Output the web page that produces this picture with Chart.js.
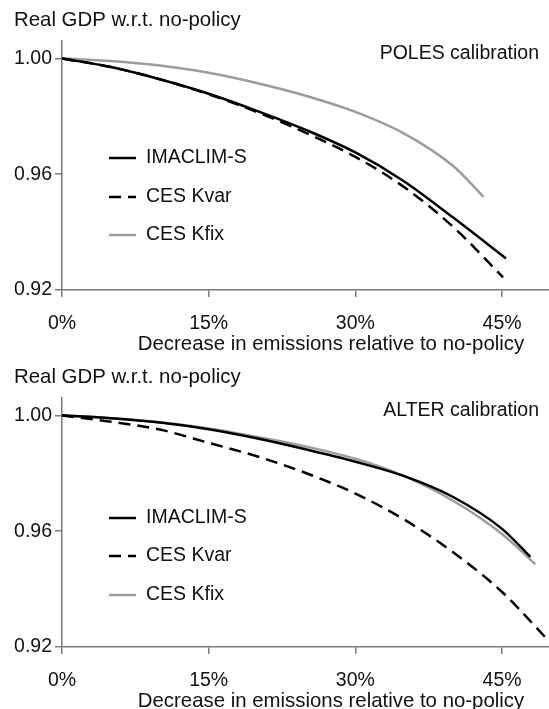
<!DOCTYPE html>
<html>
<head>
<meta charset="utf-8">
<script src="https://cdn.jsdelivr.net/npm/chart.js@4.4.1/dist/chart.umd.min.js"></script>
<style>
  html, body { margin: 0; padding: 0; background: #fff; width: 549px; height: 709px; overflow: hidden; }
  .panel { position: absolute; left: 0; width: 549px; height: 364px; }
  #top { top: 0; }
  #bot { top: 357px; }
</style>
</head>
<body>
<div class="panel" id="top"><canvas id="cTop"></canvas></div>
<div class="panel" id="bot"><canvas id="cBot"></canvas></div>
<script>
/* GDP vs emission cuts, two calibrations (POLES / ALTER), three model variants */
var xTicks = [0, 15, 30, 45];
var yTicks = [0.92, 0.96, 1.00];
var seriesNames = ['IMACLIM-S', 'CES Kvar', 'CES Kfix'];

// POLES calibration
var polesImaclimX = [0, 5, 10, 15, 20, 25, 30, 35, 40, 45.4];
var polesImaclimY = [1.000, 0.9970, 0.9928, 0.9878, 0.9818, 0.9752, 0.9675, 0.9575, 0.9450, 0.9309];
var polesKvarX = [0, 5, 10, 15, 20, 25, 30, 35, 40, 45.1];
var polesKvarY = [1.000, 0.9970, 0.9928, 0.9876, 0.9814, 0.9742, 0.9660, 0.9555, 0.9418, 0.9244];
var polesKfixX = [0, 5, 10, 15, 20, 25, 30, 35, 40, 43.1];
var polesKfixY = [1.000, 0.9991, 0.9975, 0.9950, 0.9914, 0.9870, 0.9815, 0.9740, 0.9628, 0.9522];

// ALTER calibration
var alterImaclimX = [0, 5, 10, 15, 20, 25, 30, 35, 40, 45, 47.9];
var alterImaclimY = [1.000, 0.9990, 0.9975, 0.9952, 0.9920, 0.9882, 0.9840, 0.9790, 0.9718, 0.9608, 0.9511];
var alterKvarX = [0, 5, 10, 15, 20, 25, 30, 35, 40, 45, 49.8];
var alterKvarY = [1.000, 0.9978, 0.9951, 0.9905, 0.9858, 0.9800, 0.9730, 0.9640, 0.9527, 0.9390, 0.9220];
var alterKfixX = [0, 5, 10, 15, 20, 25, 30, 35, 40, 45, 48.4];
var alterKfixY = [1.000, 0.9990, 0.9976, 0.9955, 0.9925, 0.9892, 0.9850, 0.9790, 0.9705, 0.9590, 0.9486];

var FAMILY = '"Liberation Sans", Arial, sans-serif';
var FSIZE = 19.5;     // ticks, legend, calibration
var TSIZE = 20.4;     // axis titles run a bit wider
var INK = '#111';
var AXIS = '#7a7a7a';
var GREY = '#9c9c9c';
var PANEL_H = 364;    // panels overlap a little so the x title is not clipped

Chart.defaults.font.family = FAMILY;
Chart.defaults.font.size = FSIZE;
Chart.defaults.color = INK;

function pts(xs, ys) { return xs.map(function (x, i) { return { x: x, y: ys[i] }; }); }

function sets(imX, imY, kvX, kvY, kfX, kfY) {
  var base = { pointRadius: 0, borderWidth: 2.5, cubicInterpolationMode: 'monotone', fill: false };
  return [
    Object.assign({ label: seriesNames[0], data: pts(imX, imY), borderColor: '#000' }, base),
    Object.assign({ label: seriesNames[1], data: pts(kvX, kvY), borderColor: '#000', borderDash: [12, 7] }, base),
    Object.assign({ label: seriesNames[2], data: pts(kfX, kfY), borderColor: GREY }, base),
  ];
}

// texts and the in-plot legend
var notes = {
  id: 'notes',
  afterDraw: function (chart) {
    var o = chart.options.plugins.notes, ctx = chart.ctx;
    ctx.save();
    ctx.fillStyle = INK;
    ctx.textBaseline = 'middle';
    ctx.font = TSIZE + 'px ' + FAMILY;
    ctx.textAlign = 'left';
    ctx.fillText(o.yTitle, 14, 20);
    ctx.textAlign = 'center';
    ctx.fillText(o.xTitle, 331, 344);
    ctx.font = FSIZE + 'px ' + FAMILY;
    ctx.textAlign = 'right';
    ctx.fillText(o.calib, 539, 54);
    chart.data.datasets.forEach(function (ds, i) {
      var y = o.legendY[i];
      ctx.strokeStyle = ds.borderColor;
      ctx.lineWidth = ds.borderWidth;
      ctx.setLineDash(ds.borderDash || []);
      ctx.beginPath(); ctx.moveTo(109, y); ctx.lineTo(136, y); ctx.stroke();
      ctx.setLineDash([]);
      ctx.textAlign = 'left';
      ctx.fillText(ds.label, 146, y);
    });
    ctx.restore();
  }
};

function make(id, datasets, calib, legendY) {
  return new Chart(document.getElementById(id), {
    type: 'line',
    data: { datasets: datasets },
    plugins: [notes],
    options: {
      responsive: true, maintainAspectRatio: false, animation: false,
      layout: { padding: { top: 41, left: 0, right: 0, bottom: 0 } },
      plugins: {
        legend: { display: false }, tooltip: { enabled: false },
        notes: { yTitle: 'Real GDP w.r.t. no-policy', xTitle: 'Decrease in emissions relative to no-policy', calib: calib, legendY: legendY },
      },
      scales: {
        x: {
          type: 'linear', min: 0, max: 49.8,
          afterBuildTicks: function (s) { s.ticks = xTicks.map(function (v) { return { value: v }; }); },
          afterFit: function (s) { s.height = PANEL_H - 290; },
          border: { color: AXIS, width: 1.5 },
          grid: { drawOnChartArea: false, drawTicks: true, tickLength: 7, color: AXIS, lineWidth: 1.5 },
          ticks: { padding: 15, color: INK, maxRotation: 0, callback: function (v) { return v + '%'; } },
        },
        y: {
          type: 'linear', min: 0.92, max: 1.006,
          afterBuildTicks: function (s) { s.ticks = yTicks.map(function (v) { return { value: v }; }); },
          afterFit: function (s) { s.width = 62; },
          border: { color: AXIS, width: 1.5 },
          grid: { drawOnChartArea: false, drawTicks: true, tickLength: 7, color: AXIS, lineWidth: 1.5 },
          ticks: { padding: 3, color: INK, callback: function (v) { return v.toFixed(2); } },
        },
      },
    },
  });
}

make('cTop', sets(polesImaclimX, polesImaclimY, polesKvarX, polesKvarY, polesKfixX, polesKfixY), 'POLES calibration', [158, 197, 235]);
make('cBot', sets(alterImaclimX, alterImaclimY, alterKvarX, alterKvarY, alterKfixX, alterKfixY), 'ALTER calibration', [161, 199, 238]);
</script>
</body>
</html>
